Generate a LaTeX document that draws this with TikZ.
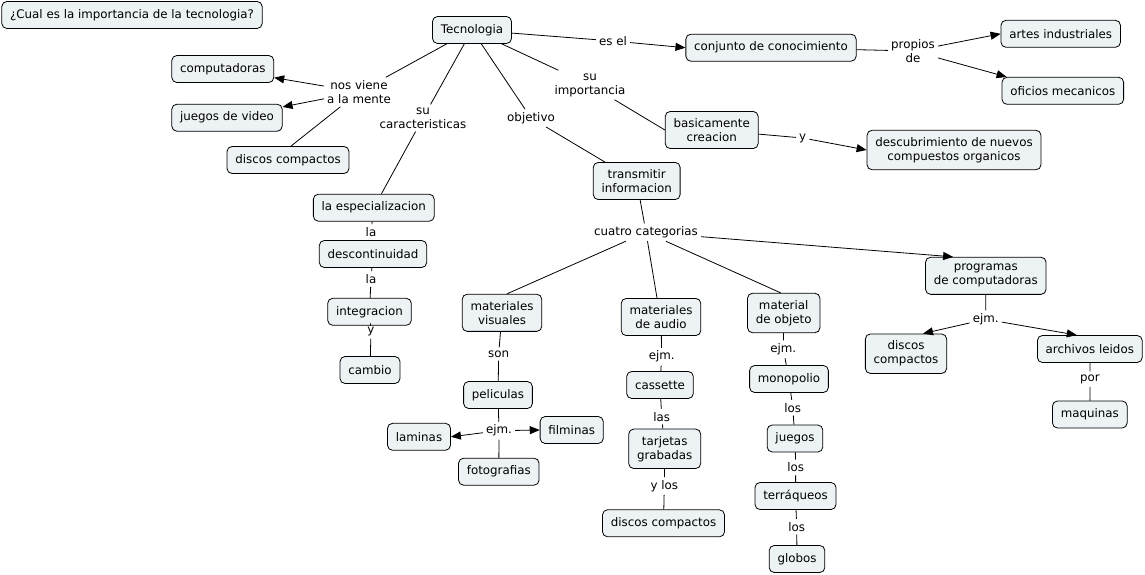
\documentclass[tikz,border=0pt]{standalone}
\usepackage{fontspec}
\setmainfont{DejaVu Sans}
\usetikzlibrary{arrows.meta,calc}
\definecolor{boxfill}{RGB}{237,242,245}
\newcommand{\mapfont}{\fontsize{11.85}{14}\selectfont}
\begin{document}
\begin{tikzpicture}[x=1pt,y=-1pt,
  box/.style={draw=black, fill=boxfill, rounded corners=5pt, line width=0.8pt,
    inner xsep=8.3pt, inner ysep=7pt, minimum height=27pt, align=center, font=\mapfont},
  lab/.style={inner sep=3pt, align=center, font=\mapfont},
  con/.style={line width=0.8pt},
  arr/.style={con, -{Triangle[length=10pt,width=8pt]}}]
\useasboundingbox (0,0) rectangle (1145,575);
% concept boxes
\node[box] (title) at (132,15) {¿Cual es la importancia de la tecnologia?};
\node[box] (tec) at (472,30) {Tecnologia};
\node[box] (conj) at (771,47.7) {conjunto de conocimiento};
\node[box] (artes) at (1060.7,33.8) {artes industriales};
\node[box] (ofi) at (1062.8,90.8) {oficios mecanicos};
\node[box] (desc) at (954,150) {descubrimiento de nuevos\\compuestos organicos};
\node[box] (bas) at (711.7,130) {basicamente\\creacion};
\node[box] (trans) at (636.7,181) {transmitir\\informacion};
\node[box] (comp) at (222.8,69) {computadoras};
\node[box] (jv) at (227,117.7) {juegos de video};
\node[box] (dc1) at (288,160) {discos compactos};
\node[box] (esp) at (373.8,207.7) {la especializacion};
\node[box] (dcont) at (373,254) {descontinuidad};
\node[box] (integ) at (369.5,311.8) {integracion};
\node[box] (camb) at (370,370) {cambio};
\node[box] (mv) at (502,312.8) {materiales\\visuales};
\node[box] (ma) at (661,317) {materiales\\de audio};
\node[box] (mo) at (783.7,313) {material\\de objeto};
\node[box] (prog) at (985.8,275.8) {programas\\de computadoras};
\node[box] (dc2) at (906,353.7) {discos\\compactos};
\node[box] (arch) at (1089.8,349) {archivos leidos};
\node[box] (maq) at (1089.8,414.5) {maquinas};
\node[box] (mono) at (789,379) {monopolio};
\node[box] (jue) at (795,438.5) {juegos};
\node[box] (terr) at (795.5,496) {terráqueos};
\node[box] (glob) at (797,559) {globos};
\node[box] (cas) at (660,385) {cassette};
\node[box] (tarj) at (664.7,448.8) {tarjetas\\grabadas};
\node[box] (dc3) at (663.5,523.3) {discos compactos};
\node[box] (pel) at (498,395) {peliculas};
\node[box] (lam) at (419,436.8) {laminas};
\node[box] (film) at (571.7,430) {filminas};
\node[box] (foto) at (498.8,471.7) {fotografias};
% link labels
\node[lab] (lesel) at (613,41) {es el};
\node[lab] (lprop) at (913,51) {propios\\de};
\node[lab] (limp) at (590,85) {su\\importancia};
\node[lab] (ly1) at (802.7,138) {y};
\node[lab] (lnos) at (359,92) {nos viene\\a la mente};
\node[lab] (lcar) at (423,118) {su\\caracteristicas};
\node[lab] (lobj) at (531,118) {objetivo};
\node[lab] (lcuat) at (646,232.3) {cuatro categorias};
\node[lab] (lla1) at (371,232) {la};
\node[lab] (lla2) at (371,279) {la};
\node[lab] (ly2) at (371,331) {y};
\node[lab] (lson) at (498.7,354) {son};
\node[lab] (lejm1) at (499,430.7) {ejm.};
\node[lab] (lejm2) at (661.7,356.7) {ejm.};
\node[lab] (llas) at (661.7,416.7) {las};
\node[lab] (lylos) at (664.3,486) {y los};
\node[lab] (lejm3) at (783.3,349.3) {ejm.};
\node[lab] (llos1) at (792.7,407.7) {los};
\node[lab] (llos2) at (795.7,467.3) {los};
\node[lab] (llos3) at (796.7,526.7) {los};
\node[lab] (lejm4) at (985.7,319.3) {ejm.};
\node[lab] (lpor) at (1090,379) {por};
% connectors
\draw[con] (tec) -- (lesel);
\draw[arr] (lesel) -- (conj.west);
\draw[con] (conj) -- (lprop);
\draw[arr] (lprop) -- (artes.west);
\draw[arr] (lprop) -- ($(ofi.north west)+(5,0)$);
\draw[con] (tec) -- (limp);
\draw[con] (limp) -- (bas.west);
\draw[con] (bas) -- (ly1);
\draw[arr] (ly1) -- (desc.west);
\draw[con] (tec) -- (lnos);
\draw[arr] (lnos) -- (comp);
\draw[arr] (lnos) -- (jv);
\draw[con] (lnos) -- ($(dc1.north)+(3,0)$);
\draw[con] (tec) -- (lcar);
\draw[con] (lcar) -- (esp);
\draw[con] (tec) -- (lobj);
\draw[con] (lobj) -- (trans);
\draw[con] (trans) -- (lcuat);
\draw[con] (lcuat) -- ($(mv.north)+(5,0)$);
\draw[con] (lcuat) -- ($(ma.north)+(-4,0)$);
\draw[con] (lcuat) -- ($(mo.north)+(-3,0)$);
\draw[arr] (lcuat) -- ($(prog.north west)+(28,0)$);
\draw[con] (prog) -- (lejm4);
\draw[arr] (lejm4) -- ($(dc2.north)+(17,0)$);
\draw[arr] (lejm4) -- ($(arch.north)+(-13,0)$);
\draw[con] (arch) -- (lpor);
\draw[con] (lpor) -- (maq);
\draw[con] (mv) -- (lson);
\draw[con] (lson) -- (pel);
\draw[con] (pel) -- (lejm1);
\draw[arr] (lejm1) -- (lam.east);
\draw[arr] (lejm1) -- (film.west);
\draw[con] (lejm1) -- (foto);
\draw[con] (ma) -- (lejm2);
\draw[con] (lejm2) -- (cas);
\draw[con] (cas) -- (llas);
\draw[con] (llas) -- (tarj);
\draw[con] (tarj) -- (lylos);
\draw[con] (lylos) -- (dc3);
\draw[con] (mo) -- (lejm3);
\draw[con] (lejm3) -- (mono);
\draw[con] (mono) -- (llos1);
\draw[con] (llos1) -- (jue);
\draw[con] (jue) -- (llos2);
\draw[con] (llos2) -- (terr);
\draw[con] (terr) -- (llos3);
\draw[con] (llos3) -- (glob);
\draw[con] (esp) -- (lla1);
\draw[con] (lla1) -- (dcont);
\draw[con] (dcont) -- (lla2);
\draw[con] (lla2) -- (integ);
\draw[con] (integ) -- (ly2);
\draw[con] (ly2) -- (camb);
\end{tikzpicture}
\end{document}
